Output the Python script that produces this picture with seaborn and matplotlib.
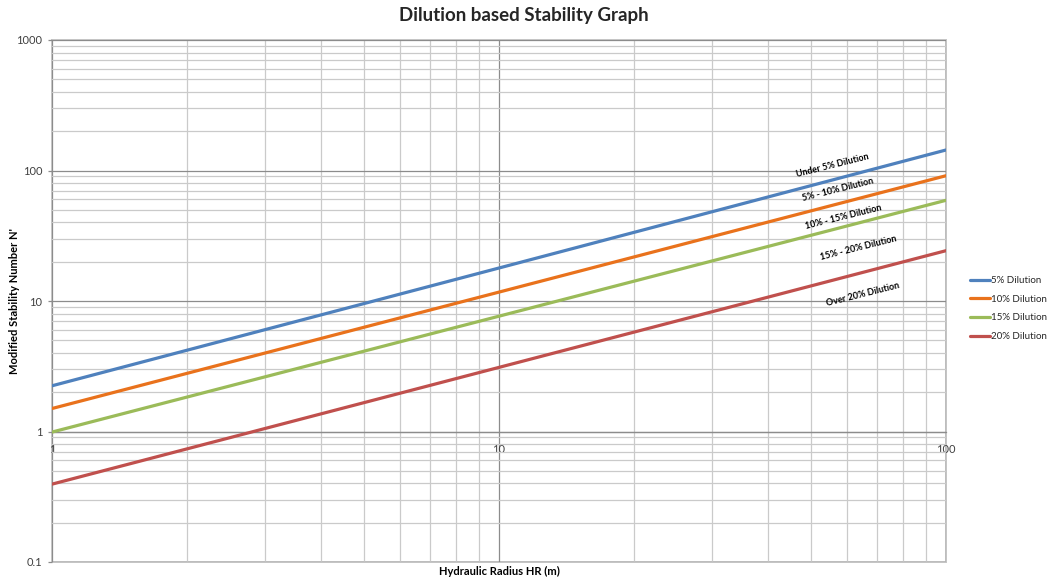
import numpy as np
import pandas as pd
import matplotlib
matplotlib.use("Agg")
import matplotlib.pyplot as plt
from matplotlib.ticker import LogLocator, FuncFormatter, NullFormatter
from matplotlib.patches import Rectangle
import seaborn as sns

# Hydraulic radius (m) and modified stability number N' for each dilution curve
hydraulic_radius = [1, 10, 100]
n_5pct = [2.24, 17.9, 143.6]
n_10pct = [1.50, 11.7, 91.2]
n_15pct = [0.99, 7.65, 59.1]
n_20pct = [0.395, 3.10, 24.3]

series_names = ["5% Dilution", "10% Dilution", "15% Dilution", "20% Dilution"]
series_colors = ["#4F81BD", "#E9721C", "#9BBB59", "#C0504D"]

# Zone labels placed between the curves: (text, HR, N')
zone_text = ["Under 5% Dilution", "5% - 10% Dilution", "10% - 15% Dilution",
             "15% - 20% Dilution", "Over 20% Dilution"]
zone_hr = [55.6, 57.3, 58.9, 63.6, 65.2]
zone_n = [110, 71, 44, 25.5, 11.3]

rows = []
for name, vals in zip(series_names, [n_5pct, n_10pct, n_15pct, n_20pct]):
    for hr, n in zip(hydraulic_radius, vals):
        rows.append({"HR": hr, "N": n, "Series": name})
df = pd.DataFrame(rows)

sns.set_theme(style="white")
plt.rcParams["font.family"] = ["Lato", "DejaVu Sans"]

fig = plt.figure(figsize=(10.48, 5.79), dpi=100)
ax = fig.add_axes([52 / 1048, 1 - 562 / 579, 894 / 1048, 522 / 579])

sns.lineplot(data=df, x="HR", y="N", hue="Series", palette=series_colors,
             hue_order=series_names, linewidth=2.3, ax=ax, legend=True,
             zorder=3)

ax.set_xscale("log")
ax.set_yscale("log")
ax.set_xlim(1, 100)
ax.set_ylim(0.1, 1000)

fmt = FuncFormatter(lambda v, p: f"{v:g}")
ax.xaxis.set_major_locator(LogLocator(base=10))
ax.yaxis.set_major_locator(LogLocator(base=10))
ax.xaxis.set_minor_locator(LogLocator(base=10, subs=np.arange(2, 10)))
ax.yaxis.set_minor_locator(LogLocator(base=10, subs=np.arange(2, 10)))
ax.xaxis.set_major_formatter(fmt)
ax.yaxis.set_major_formatter(fmt)
ax.xaxis.set_minor_formatter(NullFormatter())
ax.yaxis.set_minor_formatter(NullFormatter())

# Gridlines: decades darker, sub-decades lighter
ax.grid(True, which="major", color="#8C8C8C", linewidth=0.9, zorder=0)
ax.grid(True, which="minor", color="#CACACA", linewidth=0.9, zorder=0)
ax.set_axisbelow(True)

# Horizontal axis crosses at N' = 1; plot-area border drawn beneath tick labels
for s in ["top", "right", "left"]:
    ax.spines[s].set_visible(False)
ax.spines["bottom"].set_position(("data", 1))
ax.spines["bottom"].set_color("#8C8C8C")
ax.spines["bottom"].set_linewidth(0.9)
ax.add_patch(Rectangle((0, 0), 1, 1, transform=ax.transAxes, fill=False,
                       edgecolor="#C4C4C4", linewidth=1.4, zorder=0.3,
                       clip_on=False))

ax.tick_params(axis="x", which="major", length=0, pad=9, labelsize=8,
               labelcolor="#404040")
ax.tick_params(axis="y", which="major", length=3, width=0.9, color="#8C8C8C",
               pad=4, labelsize=8, labelcolor="#404040", left=True)
ax.tick_params(which="minor", length=0)

ax.set_xlabel("Hydraulic Radius HR (m)", fontsize=8, fontweight="bold",
              color="#000000")
ax.xaxis.set_label_coords(0.5, -0.008)
ax.set_ylabel("Modified Stability Number N'", fontsize=8, fontweight="bold",
              color="#000000")
ax.yaxis.set_label_coords(-0.036, 0.5)

fig.suptitle("Dilution based Stability Graph", x=0.5, y=1 - 16 / 579,
             va="center", fontsize=13.5, fontweight="bold")

for t, hx, ny in zip(zone_text, zone_hr, zone_n):
    ax.text(hx, ny, t, rotation=14, rotation_mode="anchor", ha="center",
            va="center", fontsize=6.5, fontweight="bold", color="#000000",
            zorder=4)

handles, labels = ax.get_legend_handles_labels()
ax.legend(handles, labels, loc="upper left",
          bbox_to_anchor=(970 / 1048, 1 - 276 / 579),
          bbox_transform=fig.transFigure, frameon=False, fontsize=7,
          handlelength=2.1, handletextpad=0.1, labelspacing=1.0,
          borderaxespad=0, borderpad=0)

fig.savefig("out.png", dpi=100)
